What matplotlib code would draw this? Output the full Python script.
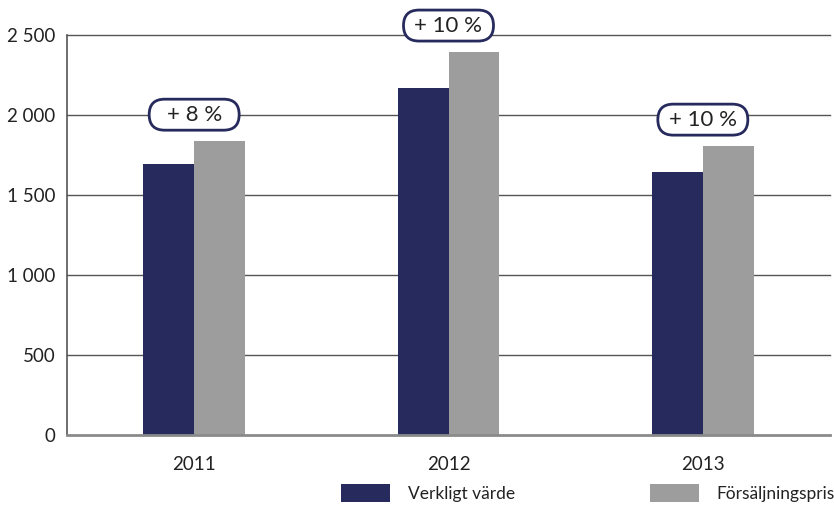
import matplotlib
matplotlib.use("Agg")
import matplotlib.pyplot as plt
import matplotlib.transforms as mtransforms
from matplotlib.patches import FancyBboxPatch
import numpy as np

years = ["2011", "2012", "2013"]
verkligt = [1694, 2169, 1644]
forsaljning = [1837, 2394, 1806]
change = ["+ 8 %", "+ 10 %", "+ 10 %"]

navy = "#272a5d"
grey = "#9d9d9d"

plt.rcParams["font.family"] = ["Lato", "DejaVu Sans"]
plt.rcParams["font.size"] = 13.5

fig = plt.figure(figsize=(8.34, 5.09), dpi=100)
ax = fig.add_axes([67 / 834, 1 - 435 / 509, 763 / 834, 400 / 509])

x = np.arange(len(years))
w = 0.2
b1 = ax.bar(x - w / 2, verkligt, w, color=navy, label="Verkligt värde", zorder=3)
b2 = ax.bar(x + w / 2, forsaljning, w, color=grey, label="Försäljningspris", zorder=3)

ax.set_xlim(-0.5, 2.5)
ax.set_ylim(0, 2500)
ax.set_yticks(range(0, 2501, 500))
ax.set_yticklabels([f"{v:,}".replace(",", " ") for v in range(0, 2501, 500)])
ax.set_xticks(x)
ax.set_xticklabels(years)
ax.tick_params(axis="both", length=0, labelcolor="#222222")
ax.tick_params(axis="y", pad=8.5)
ax.tick_params(axis="x", pad=15)

for v in range(500, 2501, 500):
    ax.axhline(v, color="#555555", lw=1, zorder=1, clip_on=False)

for s in ["top", "right"]:
    ax.spines[s].set_visible(False)
ax.spines["left"].set_color("#555555")
ax.spines["left"].set_linewidth(1.2)
ax.spines["bottom"].set_color("#8a8a8a")
ax.spines["bottom"].set_linewidth(2)
ax.spines["bottom"].set_zorder(4)

# rounded labels with the change in percent
for i, lab in enumerate(change):
    yc = max(verkligt[i], forsaljning[i]) + 165
    tr = fig.dpi_scale_trans + mtransforms.ScaledTranslation(i, yc, ax.transData)
    box = FancyBboxPatch((-0.45, -0.155), 0.9, 0.31,
                         boxstyle="round,pad=0,rounding_size=0.155",
                         transform=tr, fc="white", ec=navy, lw=2,
                         clip_on=False, zorder=5)
    ax.add_patch(box)
    ax.text(i, yc, lab, ha="center", va="center", fontsize=16,
            color="#222222", zorder=6, clip_on=False)

# two legend entries, placed apart like the original
for h, lab, xpos in [(b1, "Verkligt värde", 341), (b2, "Försäljningspris", 650)]:
    fig.legend([h], [lab], loc="center left",
               bbox_to_anchor=(xpos / 834, 1 - 493 / 509),
               frameon=False, borderpad=0, borderaxespad=0,
               handlelength=2.85, handleheight=1.2, handletextpad=1.0,
               fontsize=12.5, labelcolor="#222222")

fig.savefig("out.png", dpi=100)
